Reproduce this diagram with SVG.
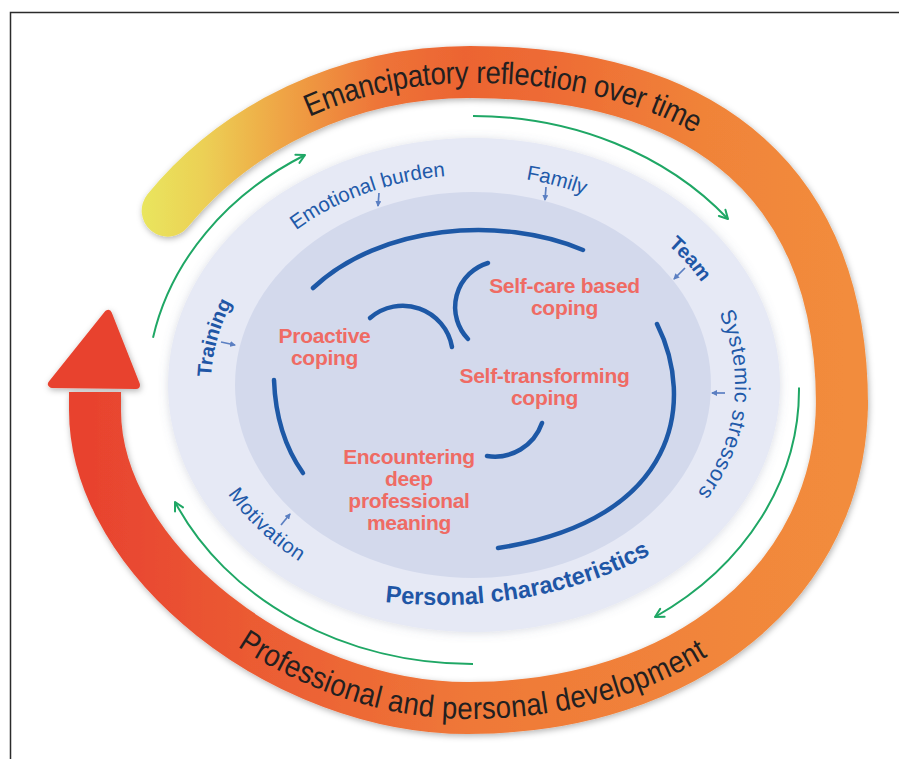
<svg xmlns="http://www.w3.org/2000/svg" width="899" height="759" viewBox="0 0 899 759">
<defs>
<style>
.ringtxt{font-family:"Liberation Sans",Arial,sans-serif;font-size:31px;fill:#231f20}
.lbl{font-family:"Liberation Sans",Arial,sans-serif;font-size:20.5px;fill:#2159a9}
.lblb{font-family:"Liberation Sans",Arial,sans-serif;font-size:20px;font-weight:bold;fill:#1f56a6}
.core{font-family:"Liberation Sans",Arial,sans-serif;font-size:21px;font-weight:bold;fill:#ef6b64;text-anchor:middle;letter-spacing:-0.3px}
.arc{fill:none;stroke:#1d58a6;stroke-width:4.5;stroke-linecap:round}
.green{fill:none;stroke:#1fa765;stroke-width:2;marker-end:url(#gh)}
.tiny{fill:none;stroke:#5b7fc2;stroke-width:1.7;marker-end:url(#bh)}
</style>
<linearGradient id="gradA" gradientUnits="userSpaceOnUse" x1="140" y1="0" x2="845" y2="0">
<stop offset="0" stop-color="#e9e65e"/>
<stop offset="0.09" stop-color="#ecd055"/>
<stop offset="0.2" stop-color="#efa545"/>
<stop offset="0.34" stop-color="#ee7438"/>
<stop offset="0.46" stop-color="#ec6432"/>
<stop offset="0.6" stop-color="#ee6d35"/>
<stop offset="0.8" stop-color="#f08339"/>
<stop offset="1" stop-color="#f28c3c"/>
</linearGradient>
<linearGradient id="gradB" gradientUnits="userSpaceOnUse" x1="842" y1="0" x2="95" y2="0">
<stop offset="0" stop-color="#f28c3c"/>
<stop offset="0.5" stop-color="#ef7838"/>
<stop offset="0.8" stop-color="#eb5a33"/>
<stop offset="1" stop-color="#e8432f"/>
</linearGradient>
<filter id="sh" x="-10%" y="-10%" width="120%" height="120%">
<feDropShadow dx="1" dy="2" stdDeviation="3" flood-color="#000" flood-opacity="0.3"/>
</filter>
<filter id="sh2" x="-10%" y="-10%" width="120%" height="120%">
<feDropShadow dx="0" dy="1" stdDeviation="5" flood-color="#6a7290" flood-opacity="0.25"/>
</filter>
<marker id="gh" viewBox="0 0 12 12" refX="10.5" refY="6" markerWidth="12" markerHeight="12" markerUnits="userSpaceOnUse" orient="auto">
<path d="M2,1.5 L10.5,6 L2,10.5" fill="none" stroke="#1fa765" stroke-width="2" stroke-linecap="round" stroke-linejoin="round"/>
</marker>
<marker id="bh" viewBox="0 0 6 6" refX="5" refY="3" markerWidth="6" markerHeight="6" markerUnits="userSpaceOnUse" orient="auto">
<path d="M0,0 L6,3 L0,6 Z" fill="#5b7fc2"/>
</marker>
<path id="pEman" d="M167.67,210.67 C236.12,126.72 346.4,72 470,72 C712,72 842,189 842,405"/>
<path id="pProf" d="M95,410 C95,560 285,708 468,708 C685,708 842,581 842,405"/>
<path id="pEmo" d="M296,230.2 A262,210 0 0 1 604,203.1"/>
<path id="pFam" d="M526,179.3 A262,210 0 0 1 731,348.5"/>
<path id="pTeam" d="M668,244.7 A262,210 0 0 1 699.9,490"/>
<path id="pSys" d="M719.1,313 A262,210 0 0 1 518.5,591.8"/>
<path id="pTrain" d="M211.2,377 A262,210 0 0 1 427.5,178.2"/>
<path id="pMot" d="M228,494 A280,225 0 0 0 424.4,606.6"/>
<path id="pPers" d="M385,601.9 A330,220 0 0 0 725.8,495"/>
</defs>

<rect x="0" y="0" width="899" height="759" fill="#ffffff"/>
<path d="M10.5,759 V12.5 H899" fill="none" stroke="#2b2b2b" stroke-width="1.5"/>

<g id="ring" filter="url(#sh)">
<path d="M95,410 L95,392" fill="none" stroke="#e8432f" stroke-width="52"/>
<path d="M842,400 C842,581 685,708 468,708 C285,708 95,560 95,410 L95,392" fill="none" stroke="url(#gradB)" stroke-width="52"/>
<path d="M167.67,210.67 C236.12,126.72 346.4,72 470,72 C712,72 842,189 842,405" fill="none" stroke="url(#gradA)" stroke-width="52" stroke-linecap="round"/>
<polygon points="108,314 52,384 136,385" fill="#e8432f" stroke="#e8432f" stroke-width="8" stroke-linejoin="round"/>
</g>

<g id="ring-labels">
<text class="ringtxt"><textPath href="#pEman" startOffset="174" textLength="408" lengthAdjust="spacingAndGlyphs"><tspan dy="11">Emancipatory reflection over time</tspan></textPath></text>
<text class="ringtxt"><textPath href="#pProf" startOffset="282" textLength="484" lengthAdjust="spacingAndGlyphs"><tspan dy="11">Professional and personal development</tspan></textPath></text>
</g>

<g id="outer-zone">
<ellipse cx="474" cy="385" rx="306" ry="247" fill="#e6e9f5" filter="url(#sh2)"/>
</g>
<g id="inner-zone">
<ellipse cx="473" cy="385" rx="238" ry="193" fill="#d3d9ec"/>
</g>

<g id="connectors">
<path class="arc" d="M313,288 C380,225 500,215 583,250"/>
<path class="arc" d="M274,380 Q276,435 303,473"/>
<path class="arc" d="M370,318 A50,50 0 0 1 452,347"/>
<path class="arc" d="M488,263 A46,46 0 0 0 468,339"/>
<path class="arc" d="M542,423 A50,50 0 0 1 487,456"/>
<path class="arc" d="M657,324 C695,400 680,520 498,548"/>
<path class="green" d="M473,116 A326,274 0 0 1 728,219"/>
<path class="green" d="M799,387.6 A326,274 0 0 1 655,617"/>
<path class="green" d="M473,664 A326,274 0 0 1 175,502"/>
<path class="green" d="M153,337.7 A326,274 0 0 1 305,155"/>
<path class="tiny" d="M379,193 L378,206"/>
<path class="tiny" d="M546,187 L545,200"/>
<path class="tiny" d="M685,268 L674,279"/>
<path class="tiny" d="M725,393 L712,393"/>
<path class="tiny" d="M281,525 L290,514"/>
<path class="tiny" d="M221,342 L235,345"/>
</g>

<g id="label-emotional-burden"><text class="lbl"><textPath href="#pEmo">Emotional burden</textPath></text></g>
<g id="label-family"><text class="lbl"><textPath href="#pFam">Family</textPath></text></g>
<g id="label-team"><text class="lblb"><textPath href="#pTeam">Team</textPath></text></g>
<g id="label-systemic"><text class="lbl" style="font-size:21.5px;letter-spacing:0.6px"><textPath href="#pSys">Systemic stressors</textPath></text></g>
<g id="label-training"><text class="lblb" font-size="19.5"><textPath href="#pTrain">Training</textPath></text></g>
<g id="label-motivation"><text class="lbl" letter-spacing="0.6"><textPath href="#pMot">Motivation</textPath></text></g>
<g id="label-personal"><text class="lblb" style="font-size:24px"><textPath href="#pPers" textLength="274" lengthAdjust="spacingAndGlyphs">Personal characteristics</textPath></text></g>

<g id="node-proactive"><text class="core"><tspan x="324.5" y="343">Proactive</tspan><tspan x="324.5" y="365">coping</tspan></text></g>
<g id="node-selfcare"><text class="core"><tspan x="564.5" y="293">Self-care based</tspan><tspan x="564.5" y="315">coping</tspan></text></g>
<g id="node-selftransforming"><text class="core"><tspan x="544.5" y="383">Self-transforming</tspan><tspan x="544.5" y="405">coping</tspan></text></g>
<g id="node-encountering"><text class="core"><tspan x="409" y="464">Encountering</tspan><tspan x="409" y="486">deep</tspan><tspan x="409" y="508">professional</tspan><tspan x="409" y="530">meaning</tspan></text></g>
</svg>
